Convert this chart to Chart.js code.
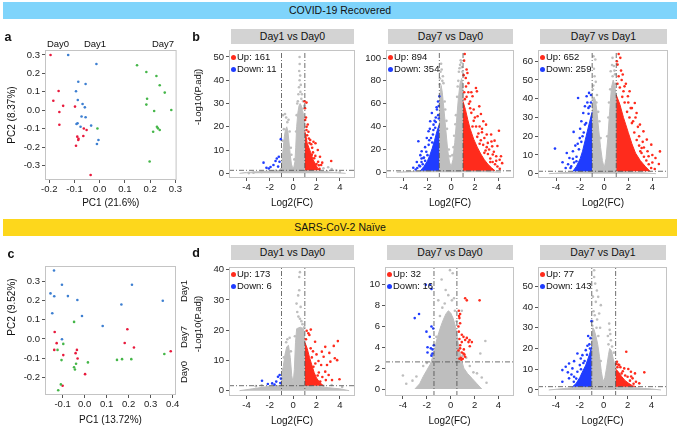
<!DOCTYPE html>
<html>
<head>
<meta charset="utf-8">
<script src="https://cdn.jsdelivr.net/npm/chart.js@4.4.1/dist/chart.umd.min.js"></script>
<style>
body{margin:0;width:680px;height:428px;position:relative;overflow:hidden;background:#fff;font-family:"Liberation Sans",Arial,sans-serif;color:#111}
canvas{position:absolute}
.banner{position:absolute;left:3px;width:674px;height:17px;line-height:17px;font-size:10.5px;text-align:center}
.strip{position:absolute;background:#d3d3d3;height:15px;line-height:15px;font-size:10.5px;text-align:center}
.t{position:absolute;transform:translate(-50%,-50%);white-space:nowrap;font-size:9.5px}
.rot{transform:translate(-50%,-50%) rotate(-90deg)}
.letter{position:absolute;transform:translate(-50%,-50%);font-weight:bold;font-size:12.5px}
.leg{position:absolute;font-size:9.5px;line-height:11.5px;white-space:nowrap}
.dot{display:inline-block;width:5px;height:5px;border-radius:50%;margin-right:1px;position:relative;top:0px}
</style>
</head>
<body>
<div class="banner" style="top:2px;background:#7fd4fb">COVID-19 Recovered</div>
<div class="banner" style="top:219px;background:#fdd71c">SARS-CoV-2 Naïve</div>
<script>
// ---- PCA data (PC1, PC2) ----
const aDay0 = [[-0.195,0.300],[-0.163,0.105],[-0.184,0.052],[-0.145,0.024],[-0.160,-0.009],[-0.160,-0.078],[-0.098,0.020],[-0.063,-0.099],[-0.052,-0.107],[-0.065,-0.139],[-0.089,-0.143],[-0.084,-0.154],[-0.085,-0.161],[-0.094,-0.192],[-0.036,-0.351]];
const aDay1 = [[-0.125,0.300],[-0.013,0.251],[-0.085,0.155],[-0.056,0.143],[-0.094,0.103],[-0.087,0.056],[-0.068,0.034],[-0.059,0.016],[-0.072,-0.034],[-0.056,-0.038],[-0.088,-0.070],[-0.092,-0.074],[-0.034,-0.083],[-0.076,-0.089],[-0.005,-0.161],[-0.011,-0.183]];
const aDay7 = [[-0.009,-0.099],[0.148,0.244],[0.185,0.208],[0.225,0.186],[0.238,0.136],[0.258,0.096],[0.188,0.063],[0.185,0.031],[0.216,-0.004],[0.284,0.002],[0.227,-0.089],[0.231,-0.098],[0.238,-0.107],[0.212,-0.116],[0.198,-0.278]];
const cDay1 = [[-0.139,0.355],[-0.103,0.281],[-0.155,0.236],[-0.138,0.221],[-0.076,0.222],[-0.033,0.202],[-0.147,0.133],[-0.012,0.119],[0.215,0.281],[0.167,0.178],[0.355,0.198],[0.082,0.067],[-0.103,-0.002]];
const cDay0 = [[-0.136,0.036],[-0.127,-0.022],[-0.138,-0.057],[-0.097,-0.084],[-0.035,-0.057],[-0.041,-0.074],[-0.032,-0.102],[0.002,-0.183],[0.194,0.050],[0.182,-0.021],[0.224,-0.045],[0.391,-0.064],[-0.100,-0.243]];
const cDay7 = [[-0.048,0.088],[-0.097,-0.026],[-0.123,-0.057],[-0.105,-0.110],[-0.039,-0.129],[-0.048,-0.147],[-0.044,-0.159],[0.015,-0.122],[0.147,-0.109],[0.170,-0.105],[0.212,-0.105],[0.362,-0.078],[-0.108,-0.236],[-0.120,-0.266]];
const aXTicks = [-0.2,-0.1,0,0.1,0.2,0.3];
const aYTicks = [-0.3,-0.2,-0.1,0,0.1,0.2,0.3];
const cXTicks = [-0.1,0,0.1,0.2,0.3,0.4];
const cYTicks = [-0.2,-0.1,0,0.1,0.2,0.3];

// ---- volcano data [log2FC, -log10 padj]; *Env = outline of the dense cloud ----
const volX = [-4,-2,0,2,4];
const b1YTicks = [0,10,20,30,40,50];
const b1GreyEnv = [[-4.6,0],[-4,0.4],[-3,0.7],[-2,1.0],[-1.2,1.2],[-1.0,2.5],[-0.95,6],[-0.85,11],[-0.75,16],[-0.65,19],[-0.55,20],[-0.45,18],[-0.35,13],[-0.25,8],[-0.15,4],[-0.05,2.5],[0.05,2.5],[0.15,5],[0.22,11],[0.3,20],[0.4,26],[0.5,29],[0.6,30],[0.7,29],[0.8,27],[0.9,25],[0.98,22],[1.02,1.3],[1.5,1.1],[2.2,0.9],[3,0.6],[3.8,0.3],[4.5,0]];
const b1GreyPts = [[-0.88,25],[-0.7,25.5],[-0.6,24],[-0.4,23],[-0.3,18],[-0.5,22],[-0.8,19],[-0.9,14],[-0.2,11],[0.35,30],[0.45,34],[0.5,37],[0.55,40],[0.52,44],[0.56,47],[0.55,50],[0.6,42],[0.65,38],[0.75,34],[0.85,31],[0.95,29],[0.4,31],[0.62,35],[0.7,32],[0.3,25],[0.25,18],[0.9,28],[-0.15,8],[0.1,6],[2.6,2.2],[3.0,2.6],[3.3,1.8],[3.7,1.2],[4.0,0.6],[-2.7,0.6],[-3.4,0.3],[-3.8,0.1],[2.9,0.9],[-1.5,1.2]];
const b1RedEnv = [[1.0,18],[1.1,16],[1.2,13],[1.35,11],[1.5,9],[1.7,6],[1.9,4],[2.1,2.2],[2.3,1.3]];
const b1RedPts = [[0.97,31],[1.14,30.4],[1.02,28],[1.03,22.9],[1.14,18.6],[1.31,17.9],[1.2,16.4],[1.46,14.3],[1.74,13.6],[1.91,12.9],[1.63,11],[2.11,10],[2.3,7.1],[2.14,5],[2.49,4.6],[2.4,3.6],[3.26,5.3],[1.74,2.9],[2.26,1.9],[1.6,8],[1.8,6.5],[2.0,4],[1.55,12.5],[1.25,21],[1.1,24],[1.4,13],[1.7,9],[1.9,7.5],[2.2,3.5],[1.15,20],[1.35,15]];
const b1BluePts = [[-2.54,4.6],[-2.29,2.4],[-2.09,2.1],[-1.94,2.7],[-1.69,3.6],[-1.51,5.3],[-1.4,6.4],[-1.23,7.1],[-1.17,5],[-1.29,2.9],[-1.06,14.7]];

const b2YTicks = [0,20,40,60,80,100];
const b2GreyEnv = [[-4.6,0],[-3.5,0.6],[-2.5,1],[-1.5,1.3],[-1.02,1.3],[-0.98,66],[-0.85,76],[-0.75,70],[-0.6,54],[-0.45,37],[-0.3,20],[-0.15,9],[0,5],[0.15,11],[0.3,26],[0.45,45],[0.6,64],[0.75,78],[0.88,82],[0.98,76],[1.02,1.3],[2,1],[3,0.6],[4.2,0]];
const b2GreyPts = [[-0.9,88],[-0.8,90],[-0.85,95],[-0.7,84],[-0.65,78],[-0.95,77],[-0.5,55],[-0.35,38],[-0.2,20],[-0.55,62],[-0.4,45],[-0.75,80],[-0.95,82],[0.75,94],[0.8,98],[0.65,88],[0.7,91],[0.85,96],[0.55,75],[0.4,50],[0.25,32],[0.1,15],[-0.1,14],[0.9,92],[0.5,66],[0.35,42],[0.2,22],[0.95,88],[0.6,80]];
const b2RedEnv = [[1.0,62],[1.2,55],[1.4,46],[1.6,38],[1.9,29],[2.2,22],[2.5,16],[2.8,11],[3.1,7],[3.4,4],[3.7,1.3]];
const b2RedPts = [[1.14,103.5],[1.09,97.7],[1.37,86.9],[1.23,82.5],[1.46,78],[2.09,73.8],[2.17,70.8],[1.8,66.5],[2.37,57.7],[2.51,51],[2.23,49],[2.71,44.6],[2.94,41.7],[4.03,36.4],[3.37,33],[3.66,27.7],[3.09,25.7],[3.46,22.7],[4.09,11],[3.51,15.5],[2.8,30],[1.6,62],[1.9,55],[2.6,35],[3.2,20],[3.8,14],[4.3,8],[3.0,33],[2.4,40],[1.3,90],[1.05,85],[1.7,70],
  [1.1,70],[1.3,66],[1.5,60],[1.7,52],[1.9,45],[2.1,40],[2.3,34],[2.5,28],[2.7,24],[2.9,19],[3.1,16],[3.3,12],[3.5,9],[3.7,7],[3.9,5],[4.1,3],[1.25,75],[1.6,56],[2.0,48],[2.6,38],[3.0,22],[3.6,18],[4.2,14],[3.9,23],[1.45,70],[2.2,31],[2.8,17],[3.3,9],[1.15,64],[1.8,40],[2.4,25],[3.4,27],[3.8,10]];
const b2BlueEnv = [[-2.6,1.3],[-2.3,5],[-2.0,10],[-1.8,15],[-1.6,21],[-1.4,28],[-1.2,36],[-1.0,42]];
const b2BluePts = [[-1,66.5],[-1.11,62],[-1.23,56.9],[-1.63,51.9],[-1.77,44.6],[-1.49,41.7],[-1.91,35.9],[-1.54,33],[-2.06,30],[-2.77,27.1],[-2.49,18.4],[-2.34,12.5],[-2.86,3.8],[-2.63,5.2],[-1.3,48],[-2.2,22],[-2.9,9],[-3.2,4],[-1.05,58],[-1.8,38],[-2.5,12],
  [-1.1,50],[-1.3,44],[-1.5,37],[-1.7,30],[-1.9,24],[-2.1,18],[-2.3,13],[-2.5,9],[-2.7,6],[-2.2,10],[-1.4,45],[-1.2,55],[-1.6,26],[-2.0,15],[-2.4,7],[-1.05,47],[-1.35,39],[-1.85,28],[-2.6,15],[-3.0,2.5]];

const b3YTicks = [0,10,20,30,40,50,60];
const b3GreyEnv = [[-4.6,0],[-3.5,0.5],[-2.5,0.9],[-1.5,1.2],[-1.02,1.3],[-0.98,36],[-0.85,41],[-0.72,39],[-0.6,33],[-0.45,23],[-0.3,14],[-0.15,7],[0,3],[0.15,8],[0.3,19],[0.45,33],[0.6,46],[0.75,50],[0.88,47],[0.98,42],[1.02,1.3],[2,1],[3,0.6],[4.3,0]];
const b3GreyPts = [[-0.89,62.7],[-0.74,60.9],[-0.85,56],[-0.8,52],[-0.7,49],[-0.9,47],[-0.6,42],[-0.5,33],[-0.95,40],[-0.65,38],[-0.4,28],[-0.3,19],[0.69,61.8],[0.54,54.7],[0.65,58],[0.8,57.5],[0.9,53],[0.5,45],[0.35,30],[-0.95,45],[0.4,38],[0.7,52],[0.95,48],[0.25,20],[0.85,55]];
const b3RedEnv = [[1.0,42],[1.3,37],[1.6,30],[2.0,22],[2.3,16],[2.6,11],[3.0,7],[3.4,4],[3.8,1.3]];
const b3RedPts = [[1.2,63.9],[1.34,61.8],[1.11,58.2],[1.54,52.9],[1.69,46.6],[2.11,44],[1.97,41.3],[2.54,37.7],[2.69,32.4],[2.97,26.2],[3.26,22.6],[3.54,18.2],[3.91,15.5],[4.63,11.9],[4.26,8.4],[3.69,9.3],[3.11,13.7],[4.54,5.2],[1.4,55],[1.8,48],[2.3,35],[2.4,28],[2.9,20],[3.3,14],[1.05,60],[2.0,38],[3.6,12],[4.0,6],
  [1.1,48],[1.3,46],[1.5,41],[1.7,38],[1.9,33],[2.1,30],[2.3,27],[2.5,22],[2.7,18],[2.9,15],[3.1,11],[3.3,9],[3.5,7],[3.7,5],[3.9,3],[4.2,2.5],[2.2,35],[2.8,25],[3.2,17],[1.2,52],[1.6,44],[2.6,30],[3.0,12],[4.0,10],[1.45,50]];
const b3BlueEnv = [[-2.6,1.3],[-2.3,4],[-2.0,8],[-1.8,12],[-1.5,20],[-1.2,28],[-1.0,33]];
const b3BluePts = [[-1.26,43.1],[-1.46,41.3],[-2.17,40.4],[-1.31,35.1],[-1.74,32.4],[-1.6,26.2],[-2.54,22.3],[-2.03,19],[-4.09,13.4],[-3.11,11],[-2.89,8.4],[-2.74,3.9],[-2.31,6.6],[-3.46,6.1],[-1.9,28],[-2.2,16],[-2.6,12],[-3.0,5],[-1.1,42],[-1.6,36],
  [-1.1,38],[-1.3,32],[-1.5,27],[-1.7,22],[-1.9,17],[-2.1,13],[-2.3,9],[-2.5,6],[-2.8,3],[-2.0,24],[-1.4,38],[-2.4,15],[-1.2,36],[-1.8,20],[-2.6,8],[-3.2,3]];

const d1YTicks = [0,10,20,30,40];
const d1GreyEnv = [[-4.6,0],[-3.5,0.6],[-2.5,1.2],[-1.5,1.6],[-1.02,1.7],[-0.98,4],[-0.85,8],[-0.7,12],[-0.55,14.5],[-0.4,15],[-0.25,11],[-0.12,5],[0,2.5],[0.1,7],[0.2,16],[0.3,20.5],[0.6,21],[0.9,20.5],[0.98,17],[1.02,1.7],[2,1.4],[3,1],[4,0.6],[4.8,0]];
const d1GreyPts = [[0.58,39.2],[0.52,37.6],[0.52,33.2],[0.43,31.5],[0.29,28.8],[0.64,27.7],[0.35,26],[0.58,23.8],[0.45,24.5],[0.7,23],[-0.5,17],[-0.3,17.5],[-0.6,16],[0.15,18],[-0.8,11],[-0.9,7],[-0.2,13],[0.8,22],[0.95,21],[-2.7,1.8],[-3.2,1.5],[3.3,1.9],[4.2,1.2],[2.6,1.6]];
const d1RedEnv = [[1.0,16],[1.2,14],[1.4,11],[1.6,8.5],[1.8,6],[2.0,4.2],[2.3,2.6],[2.6,1.65]];
const d1RedPts = [[1.16,19.8],[1.51,20.2],[1.39,18.4],[1.88,16.2],[2.46,12.9],[2.75,14.5],[3.48,14.8],[3.83,16.4],[3.57,10.7],[3.77,10.1],[3.19,9.6],[2.9,8.5],[2.75,6.3],[3.33,3.5],[3.97,3.8],[2.32,3],[2.61,11.2],[2.17,9.8],[1.74,7.9],[3.04,5.2],[2.0,12],[2.2,6],[1.7,13],[2.4,8.5],[3.1,12.5],[1.3,19],[2.8,3.5],[1.1,17],[1.5,14],[1.9,9],[2.1,5],[1.6,11],[2.5,4.5]];
const d1BluePts = [[-2.67,3.3],[-2.17,2.2],[-1.8,2.4],[-1.45,3],[-1.3,4.6],[-1.16,5.2],[-1.1,2.5],[-1.05,4],[-1.6,2]];

const d2YTicks = [0,2,4,6,8,10];
const d2GreyEnv = [[-3.0,0],[-2.6,0.5],[-2.3,1.2],[-2.0,1.8],[-1.7,2.4],[-1.4,3.5],[-1.2,4.6],[-1.0,5.4],[-0.8,6.1],[-0.6,6.7],[-0.4,7.2],[-0.2,7.5],[0,7.3],[0.2,6.8],[0.4,6.0],[0.55,5.0],[0.7,3.9],[0.9,2.8],[1.1,2.0],[1.4,1.5],[1.8,1.0],[2.2,0.5],[2.6,0]];
const d2GreyPts = [[-0.06,11.4],[0.17,11.1],[-0.76,10.5],[-0.42,9.5],[-1.04,8.5],[0.28,8.7],[0.93,7.5],[-4,1.3],[-3.72,0.5],[2.9,4.6],[2.48,3.4],[-2.87,1.2],[-0.2,9],[0.1,8.5],[-0.7,7.8],[-1.2,5],[0.5,6.5],[1.3,3],[1.6,2.2],[2.2,1.5],[-2.3,2.2],[-3.2,0.8],[3.0,0.6],[2.6,1.1],[-1.6,3.3],[-0.5,8.2],[-0.9,7],[0.35,7.5],[-1.4,4.2],[1.0,3.2],[-2.0,2.5],[1.9,1.6]];
const d2RedPts = [[1.21,8.7],[1.35,8.5],[2.42,8.5],[0.68,7.5],[0.79,7.2],[0.73,6.8],[0.79,6.3],[0.65,6],[0.68,5.5],[0.93,5.2],[1.07,5],[1.35,4.9],[1.58,4.7],[1.77,4.5],[0.93,4.5],[0.73,4.8],[1.21,4.7],[0.79,3.9],[0.93,3.5],[1.07,3.4],[0.85,3.0],[0.73,2.9],[1.21,3.1],[1.01,2.9],[0.65,3.7],[1.49,4.5],[1.1,3.8],[0.7,7.0],[0.9,2.8],[1.15,3.3],[0.8,4.2],[1.6,4.1]];
const d2BluePts = [[-2.08,10],[-1.72,10],[-1.61,9.6],[-3.01,6.8],[-2.65,7.2],[-1.61,6],[-1.46,5.8],[-2.03,5.5],[-1.75,5],[-1.94,4],[-1.66,3.9],[-1.52,3.8],[-1.94,3.5],[-1.61,3.2],[-1.52,3.4],[-1.41,4.2]];

const d3YTicks = [0,10,20,30,40,50];
const d3GreyEnv = [[-4.6,0],[-3.5,0.6],[-2.5,1.2],[-1.5,1.5],[-1.02,1.6],[-0.98,27],[-0.9,30],[-0.8,29],[-0.65,26],[-0.5,22],[-0.35,16],[-0.2,9],[-0.05,4],[0.1,6],[0.25,11],[0.4,17],[0.5,20],[0.65,19],[0.8,15],[0.98,11],[1.02,1.6],[2,1.3],[3,0.9],[4,0.5],[4.8,0]];
const d3GreyPts = [[-0.8,57.7],[-0.8,54.5],[-0.71,51.3],[-0.57,48],[-0.46,44.9],[-0.66,42.5],[-0.24,40.9],[-0.38,36.9],[-0.94,33.2],[0.46,32],[0.5,29],[-0.85,38],[-0.75,36],[-0.55,34],[-0.9,45],[0.35,26],[0.6,24],[-0.3,30],[0.55,27],[-0.6,30],[-0.45,26],[-0.95,31],[0.4,22],[0.7,21],[0.85,18],[-0.25,14]];
const d3RedEnv = [[1.0,10],[1.2,9],[1.5,6.5],[1.8,4.5],[2.1,3.2],[2.4,2.1],[2.7,1.6]];
const d3RedPts = [[1.11,13.6],[1.22,12.3],[1.89,18.4],[1.72,10.4],[2.06,10.1],[2.28,8.8],[2.62,8],[3.4,8.5],[2.42,5.6],[2.7,4],[2.98,3.2],[2.0,6.4],[1.4,11],[1.6,9],[2.2,4.5],[2.5,3],[1.3,12],[1.05,12.5],[1.15,11],[1.5,8],[1.8,7],[2.3,6.5]];
const d3BlueEnv = [[-2.6,1.6],[-2.3,3.2],[-2.0,6],[-1.8,8.5],[-1.5,12],[-1.2,17],[-1.0,21]];
const d3BluePts = [[-1.02,33.2],[-2.2,17.6],[-1.78,16.8],[-1.92,15.2],[-1.36,21.3],[-1.5,19.2],[-2.48,13.9],[-2.9,12.8],[-3.18,11.2],[-3.46,9.6],[-2.62,10.4],[-2.2,8.8],[-3.46,4],[-2.9,5.6],[-2.48,6.4],[-1.78,7.2],[-1.1,25],[-1.2,22],[-1.6,14],[-2.0,12],[-2.7,7.5],[-3.0,8.5],[-1.3,26],[-1.4,17],[-1.7,13],[-1.9,10],[-2.3,5.5],[-1.15,20],[-2.5,4]];

// thresholds: [padj line, left FC line, right FC line]
const b1Cut = [1.3,-1,1], b2Cut = [1.3,-1,1], b3Cut = [1.3,-1,1];
const d1Cut = [1.65,-1,1], d2Cut = [2.6,-1.4,0.52], d3Cut = [1.6,-1,1];
const upCounts = [161,894,652,173,32,77];
const downCounts = [11,354,259,6,16,143];
const titles = ['Day1 vs Day0','Day7 vs Day0','Day7 vs Day1','Day1 vs Day0','Day7 vs Day0','Day7 vs Day1'];

const RED = '#ff2b1c', BLUE = '#1f3cff', GREY = '#bebebe';
const FONT = '"Liberation Sans", Arial, sans-serif';
Chart.defaults.font.family = FONT;

const pts = a => a.map(p => ({x: p[0], y: p[1]}));

const boxPlugin = {
    id: 'box',
    afterDatasetsDraw(chart){
        const a = chart.chartArea, ctx = chart.ctx;
        ctx.save();
        ctx.strokeStyle = '#c4c4c4';
        ctx.lineWidth = 1;
        ctx.strokeRect(a.left + 0.5, a.top + 0.5, a.right - a.left - 1, a.bottom - a.top - 1);
        ctx.restore();
    }
};

function addDiv(cls, html, style){
    const d = document.createElement('div');
    d.className = cls;
    d.innerHTML = html;
    d.setAttribute('style', style);
    document.body.appendChild(d);
    return d;
}

function axes(xmin, xmax, ymin, ymax, xt, yt, xh, yw, fsize, xtitle, fmt){
    const tickCfg = {font: {size: fsize}, color: '#222', maxRotation: 0, autoSkip: false, callback: fmt};
    const grid = {drawOnChartArea: false, drawTicks: true, tickLength: 3, color: '#555'};
    return {
        x: {type: 'linear', min: xmin, max: xmax, grid: grid, border: {display: false},
            ticks: Object.assign({padding: 1}, tickCfg),
            afterBuildTicks: s => { s.ticks = xt.map(v => ({value: v})); },
            afterFit: s => { s.height = xh; },
            title: {display: true, text: xtitle, color: '#111', font: {size: 10}, padding: {top: 0, bottom: 1}}},
        y: {type: 'linear', min: ymin, max: ymax, grid: grid, border: {display: false},
            ticks: Object.assign({padding: 2}, tickCfg),
            afterBuildTicks: s => { s.ticks = yt.map(v => ({value: v})); },
            afterFit: s => { s.width = yw; }}
    };
}

function makeCanvas(left, top, yw, aw, ah, xh){
    const cv = document.createElement('canvas');
    cv.width = yw + aw + 6;
    cv.height = 8 + ah + xh;
    cv.style.left = left + 'px';
    cv.style.top = (top - 8) + 'px';
    document.body.appendChild(cv);
    return cv;
}

function baseOptions(scales){
    return {
        responsive: false, animation: false, events: [],
        layout: {padding: {top: 8, right: 6, left: 0, bottom: 0}},
        plugins: {legend: {display: false}, tooltip: {enabled: false}},
        scales: scales
    };
}

function pca(left, top, aw, ah, xh, xr, yr, xt, yt, series, xtitle){
    const cv = makeCanvas(left, top, 45, aw, ah, xh);
    const ds = series.map(s => ({data: pts(s[0]), showLine: false, pointRadius: 1.3, pointBorderWidth: 0,
        pointBackgroundColor: s[1], backgroundColor: s[1], borderColor: s[1]}));
    new Chart(cv, {type: 'line', data: {datasets: ds},
        options: baseOptions(axes(xr[0], xr[1], yr[0], yr[1], xt, yt, xh, 45, 9.5, xtitle, v => v.toFixed(1))),
        plugins: [boxPlugin]});
}

function volcano(k, left, top, yw, aw, ah, yr, yt, d){
    const xr = [-5.5, 5.3];
    const cv = makeCanvas(left, top, yw, aw, ah, 32);
    const cut = d.cut;
    const dash = a => ({data: pts(a), showLine: true, borderColor: '#4a4a4a', borderWidth: 0.8,
        borderDash: [5, 2, 1, 2], pointRadius: 0, fill: false});
    const dots = (a, col) => ({data: pts(a), showLine: false, pointRadius: 1.3, pointBorderWidth: 0,
        pointBackgroundColor: col, backgroundColor: col, borderColor: col});
    const env = (a, col, base) => ({data: pts(a), showLine: true, borderColor: col, borderWidth: 1,
        backgroundColor: col, pointRadius: 0, fill: base === 0 ? 'origin' : {value: base}});
    const sets = [
        dash([[xr[0], cut[0]], [xr[1], cut[0]]]),
        dash([[cut[1], yr[0]], [cut[1], yr[1]]]),
        dash([[cut[2], yr[0]], [cut[2], yr[1]]]),
        dots(d.red, RED), dots(d.blue, BLUE)
    ];
    if (d.redEnv) sets.push(env(d.redEnv, RED, cut[0]));
    if (d.blueEnv) sets.push(env(d.blueEnv, BLUE, cut[0]));
    sets.push(dots(d.grey, GREY), env(d.greyEnv, GREY, 0));
    new Chart(cv, {type: 'line', data: {datasets: sets},
        options: baseOptions(axes(xr[0], xr[1], yr[0], yr[1], volX, yt, 32, yw, 9.5, 'Log2(FC)')),
        plugins: [boxPlugin]});
    // header strip and legend
    addDiv('strip', titles[k], `left:${left + yw + 2}px;top:${top - (k < 3 ? 21 : 22)}px;width:${aw - 3}px`);
    addDiv('leg', `<span class="dot" style="background:${RED}"></span>Up: ${upCounts[k]}<br>` +
        `<span class="dot" style="background:${BLUE}"></span>Down: ${downCounts[k]}`,
        `left:${left + yw + 2}px;top:${top + 1}px`);
}

// ---- panel a / c ----
pca(0, 50, 132, 130, 30, [-0.217, 0.305], [-0.378, 0.327], aXTicks, aYTicks,
    [[aDay7, '#45b649'], [aDay1, '#3d7fd1'], [aDay0, '#e8193c']], 'PC1 (21.6%)');
pca(0, 266, 131, 129, 32, [-0.18, 0.415], [-0.291, 0.378], cXTicks, cYTicks,
    [[cDay7, '#45b649'], [cDay1, '#3d7fd1'], [cDay0, '#e8193c']], 'PC1 (13.72%)');

// ---- panel b / d ----
volcano(0, 190, 50, 39, 126, 128, [-2, 53], b1YTicks, {cut: b1Cut, greyEnv: b1GreyEnv, grey: b1GreyPts, redEnv: b1RedEnv, red: b1RedPts, blue: b1BluePts});
volcano(1, 360, 50, 26, 128, 128, [-5, 107], b2YTicks, {cut: b2Cut, greyEnv: b2GreyEnv, grey: b2GreyPts, redEnv: b2RedEnv, red: b2RedPts, blueEnv: b2BlueEnv, blue: b2BluePts});
volcano(2, 518, 50, 20, 130, 128, [-2.3, 66], b3YTicks, {cut: b3Cut, greyEnv: b3GreyEnv, grey: b3GreyPts, redEnv: b3RedEnv, red: b3RedPts, blueEnv: b3BlueEnv, blue: b3BluePts});
volcano(3, 190, 267, 39, 126, 129, [-1.76, 40.9], d1YTicks, {cut: d1Cut, greyEnv: d1GreyEnv, grey: d1GreyPts, redEnv: d1RedEnv, red: d1RedPts, blue: d1BluePts});
volcano(4, 360, 267, 25, 129, 129, [-0.67, 11.7], d2YTicks, {cut: d2Cut, greyEnv: d2GreyEnv, grey: d2GreyPts, red: d2RedPts, blue: d2BluePts});
volcano(5, 518, 267, 20, 129, 129, [-2.9, 59.3], d3YTicks, {cut: d3Cut, greyEnv: d3GreyEnv, grey: d3GreyPts, redEnv: d3RedEnv, red: d3RedPts, blueEnv: d3BlueEnv, blue: d3BluePts});

// ---- loose text ----
addDiv('letter', 'a', 'left:8px;top:37px');
addDiv('letter', 'b', 'left:196px;top:37px');
addDiv('letter', 'c', 'left:11px;top:254px');
addDiv('letter', 'd', 'left:196px;top:253px');
addDiv('t', 'Day0', 'left:58px;top:43px');
addDiv('t', 'Day1', 'left:95px;top:43px');
addDiv('t', 'Day7', 'left:163px;top:43px');
addDiv('t rot', 'Day1', 'left:183px;top:291px');
addDiv('t rot', 'Day7', 'left:183px;top:337px');
addDiv('t rot', 'Day0', 'left:183px;top:372px');
addDiv('t rot', 'PC2 (8.37%)', 'left:11px;top:115px;font-size:10px');
addDiv('t rot', 'PC2 (9.52%)', 'left:11px;top:307px;font-size:10px');
addDiv('t rot', '-Log10(P.adj)', 'left:197px;top:97px');
addDiv('t rot', '-Log10(P.adj)', 'left:197px;top:324px');
</script>
</body>
</html>
